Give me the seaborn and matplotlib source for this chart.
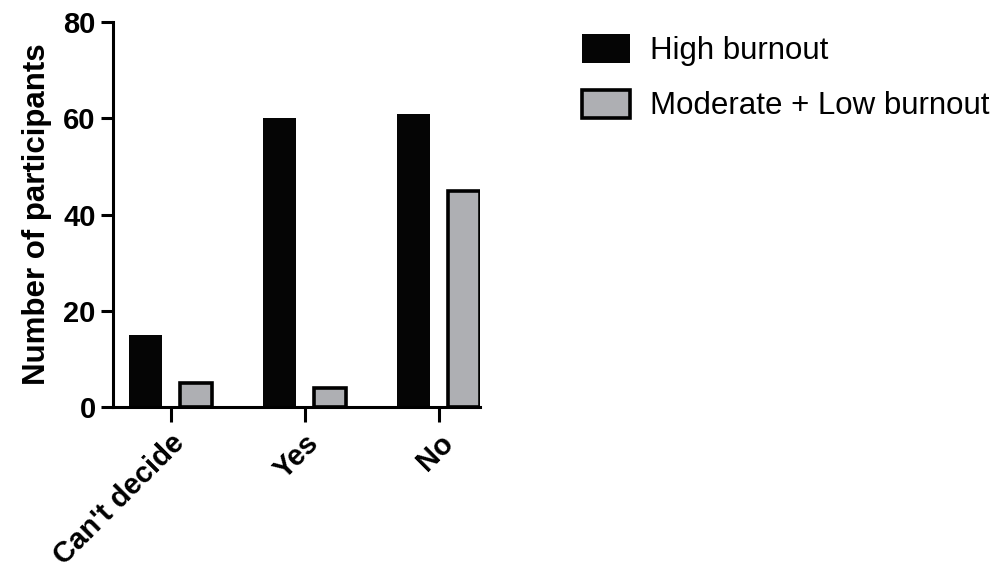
import pandas as pd
import matplotlib
matplotlib.use("Agg")
import matplotlib.pyplot as plt
import seaborn as sns

# Data
categories = ["Can't decide", "Yes", "No"]
high_burnout = [15, 60, 61]
moderate_low_burnout = [5, 4, 45]
groups = ["High burnout", "Moderate + Low burnout"]

df = pd.DataFrame({
    "answer": categories * 2,
    "count": high_burnout + moderate_low_burnout,
    "group": [groups[0]] * len(categories) + [groups[1]] * len(categories),
})

sns.set_style("ticks")
plt.rcParams['font.family'] = ['Liberation Sans', 'DejaVu Sans']
plt.rcParams.update({"text.color": "black", "axes.labelcolor": "black",
                     "xtick.color": "black", "ytick.color": "black",
                     "axes.edgecolor": "black"})

fig = plt.figure(figsize=(9.96, 5.70), dpi=100)
ax = fig.add_axes([0.1135, 0.286, 0.3685, 0.675])

palette = {groups[0]: "#050505", groups[1]: "#aeafb3"}
sns.barplot(data=df, x="answer", y="count", hue="group", order=categories,
            hue_order=groups, palette=palette, width=0.75, gap=0.36,
            saturation=1, edgecolor="black", linewidth=0, ax=ax)

# gray bars get a thick black border
for bar in ax.containers[1]:
    bar.set_linewidth(2.6)
    bar.set_edgecolor("black")

ax.set_xlim(-0.43, 2.31)
ax.set_ylim(0, 80)
ax.set_yticks([0, 20, 40, 60, 80])
ax.set_xlabel("")
ax.set_ylabel("Number of participants", fontsize=22.5, fontweight="bold", labelpad=8)
sns.despine(ax=ax)
for side in ["left", "bottom"]:
    ax.spines[side].set_linewidth(2.2)
ax.tick_params(axis="y", width=2.2, length=9, labelsize=21)
ax.tick_params(axis="x", width=2.2, length=11, labelsize=21, pad=5)
for lab in ax.get_yticklabels():
    lab.set_fontweight("bold")
for lab in ax.get_xticklabels():
    lab.set_fontweight("bold")
    lab.set_rotation(45)
    lab.set_ha("right")
    lab.set_rotation_mode("anchor")

handles, labels = ax.get_legend_handles_labels()
handles[1].set_linewidth(2.6)
handles[1].set_edgecolor("black")
ax.legend(handles, labels, loc="upper left", bbox_to_anchor=(0.584, 0.94),
          bbox_transform=fig.transFigure, frameon=False, fontsize=22.5,
          handlelength=1.55, handleheight=1.02, handletextpad=0.65,
          labelspacing=0.75, borderaxespad=0, borderpad=0)

fig.savefig("out.png", dpi=100)
plt.close(fig)
